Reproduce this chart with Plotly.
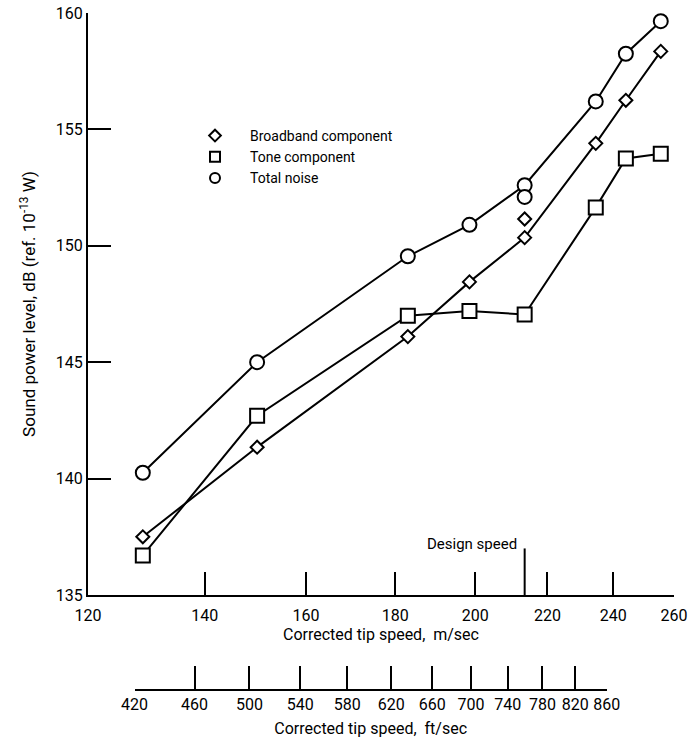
import math
import plotly.graph_objects as go

# ---- data ----
speed_ms = [129, 150, 183, 198.5, 213.5, 234.5, 244, 255.5]
broadband_db = [137.5, 141.35, 146.1, 148.45, 150.35, 154.4, 156.25, 158.35]
tone_db = [136.7, 142.7, 147.0, 147.2, 147.05, 151.65, 153.75, 153.95]
total_db = [140.25, 145.0, 149.55, 150.9, 152.6, 156.2, 158.25, 159.65]

# extra (unconnected) repeat points at design speed
extra_speed = [213.5]
extra_broadband = [151.15]
extra_total = [152.1]

design_speed = 213.5

ms_ticks = [120, 140, 160, 180, 200, 220, 240, 260]
fts_ticks = [420, 460, 500, 540, 580, 620, 660, 700, 740, 780, 820, 860]
y_ticks = [135, 140, 145, 150, 155, 160]

FONT = "Roboto, sans-serif"

W, H = 695, 745
ML, MR, MT, MB = 88, 21, 13, 55
plot_h = H - MT - MB
plot_w = W - ML - MR
ybot_px = 595
ydom0 = ((H - MB) - ybot_px) / plot_h

fts_left_px, fts_right_px = 134.6, 606.7
xd2 = [(fts_left_px - ML) / plot_w, (fts_right_px - ML) / plot_w]

fig = go.Figure()

line_style = dict(color="black", width=2)


def mk(symbol, size):
    return dict(symbol=symbol, size=size, color="white", line=dict(color="black", width=2))


fig.add_trace(go.Scatter(x=speed_ms, y=total_db, mode="lines+markers", line=line_style,
                         marker=mk("circle", 14), showlegend=False))
fig.add_trace(go.Scatter(x=speed_ms, y=broadband_db, mode="lines+markers", line=line_style,
                         marker=mk("diamond", 10), showlegend=False))
fig.add_trace(go.Scatter(x=speed_ms, y=tone_db, mode="lines+markers", line=line_style,
                         marker=mk("square", 14), showlegend=False))
fig.add_trace(go.Scatter(x=extra_speed, y=extra_total, mode="markers",
                         marker=mk("circle", 14), showlegend=False))
fig.add_trace(go.Scatter(x=extra_speed, y=extra_broadband, mode="markers",
                         marker=mk("diamond", 10), showlegend=False))

# legend-only entries
fig.add_trace(go.Scatter(x=[None], y=[None], mode="markers", name="Broadband component",
                         marker=mk("diamond", 9)))
fig.add_trace(go.Scatter(x=[None], y=[None], mode="markers", name="Tone component",
                         marker=mk("square", 10)))
fig.add_trace(go.Scatter(x=[None], y=[None], mode="markers", name="Total noise",
                         marker=mk("circle", 10)))

# dummy trace to make xaxis2 visible
fig.add_trace(go.Scatter(x=[None], y=[None], xaxis="x2", yaxis="y", showlegend=False))

# design speed marker
fig.add_shape(type="line", xref="x", yref="y", x0=design_speed, x1=design_speed,
              y0=135, y1=137.0, line=dict(color="black", width=2))
fig.add_annotation(x=math.log10(design_speed), y=137.2, xref="x", yref="y",
                   text="Design speed", showarrow=False, xanchor="right", yanchor="middle",
                   xshift=-6, font=dict(family=FONT, size=15, color="black"))

axis_common = dict(showgrid=False, zeroline=False, showline=True, linecolor="black",
                   linewidth=2, ticks="inside", ticklen=23, tickwidth=2, tickcolor="black",
                   automargin=False, tickangle=0,
                   tickfont=dict(family=FONT, size=16, color="black"))

fig.update_layout(
    width=W, height=H,
    margin=dict(l=ML, r=MR, t=MT, b=MB),
    paper_bgcolor="white", plot_bgcolor="rgba(0,0,0,0)",
    font=dict(family=FONT, color="black"),
    xaxis=dict(type="log", range=[math.log10(120), math.log10(260)],
               tickvals=ms_ticks, ticktext=[str(t) for t in ms_ticks],
               anchor="y", ticklabelstandoff=5,
               title=dict(text="Corrected tip speed,  m/sec", font=dict(family=FONT, size=16),
                          standoff=4),
               **axis_common),
    xaxis2=dict(type="log", range=[math.log10(420), math.log10(860)],
                domain=xd2, anchor="free", position=0,
                tickvals=fts_ticks, ticktext=[str(t) for t in fts_ticks],
                ticklabelstandoff=0,
                title=dict(text="Corrected tip speed,  ft/sec", font=dict(family=FONT, size=16),
                           standoff=9),
                **axis_common),
    yaxis=dict(range=[135, 160], domain=[ydom0, 1],
               tickvals=y_ticks, ticktext=[str(t) for t in y_ticks],
               title=dict(text="Sound power level, dB (ref. 10<sup>-13</sup> W)",
                          font=dict(family=FONT, size=17), standoff=16),
               **axis_common),
    legend=dict(x=(180 - ML) / plot_w, y=((H - MB) - 120) / plot_h, xanchor="left", yanchor="top",
                font=dict(family=FONT, size=14, color="black"), bgcolor="rgba(0,0,0,0)",
                tracegroupgap=0, itemwidth=60),
)

fig.write_html("out.html")
